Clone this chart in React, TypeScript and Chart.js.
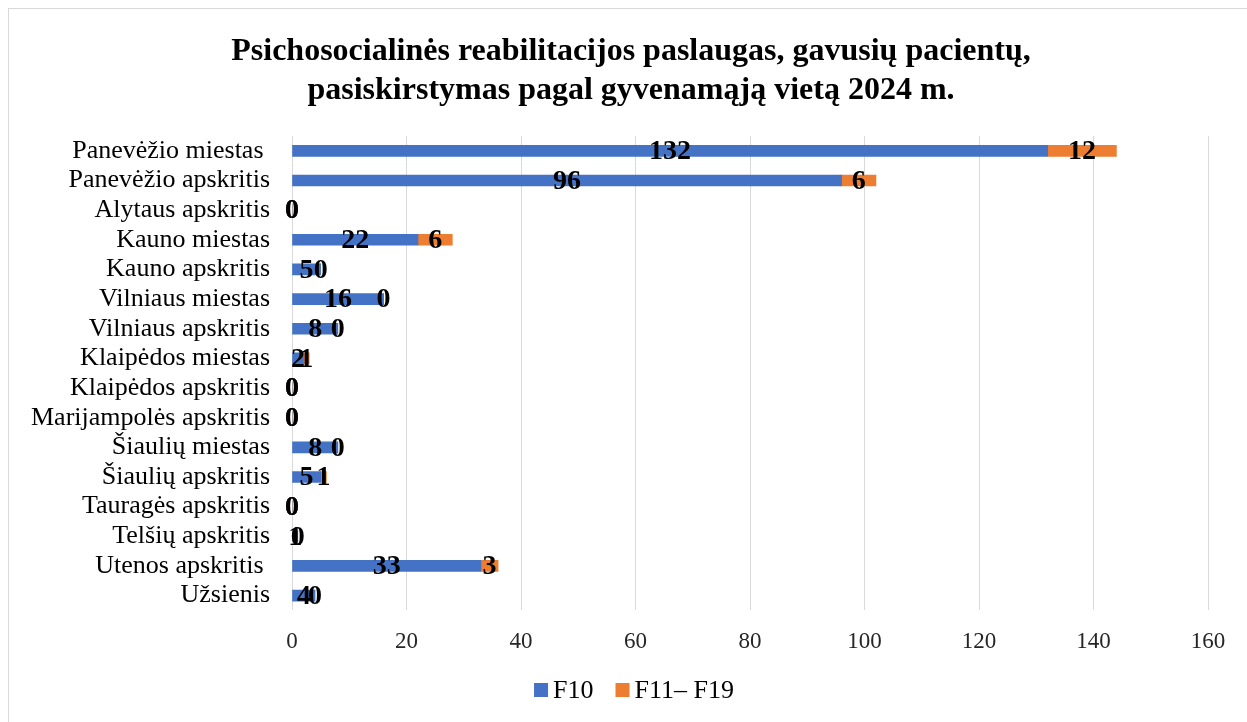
import React, { useEffect, useRef } from "react";
import { Chart, registerables } from "chart.js";

Chart.register(...registerables);

const categories: string[] = [
  "Panevėžio miestas ",
  "Panevėžio apskritis",
  "Alytaus apskritis",
  "Kauno miestas",
  "Kauno apskritis",
  "Vilniaus miestas",
  "Vilniaus apskritis",
  "Klaipėdos miestas",
  "Klaipėdos apskritis",
  "Marijampolės apskritis",
  "Šiaulių miestas",
  "Šiaulių apskritis",
  "Tauragės apskritis",
  "Telšių apskritis",
  "Utenos apskritis ",
  "Užsienis",
];

const f10Values: number[] = [132, 96, 0, 22, 5, 16, 8, 2, 0, 0, 8, 5, 0, 1, 33, 4];
const f11f19Values: number[] = [12, 6, 0, 6, 0, 0, 0, 1, 0, 0, 0, 1, 0, 0, 3, 0];

const seriesNames: string[] = ["F10", "F11– F19"];
const seriesColors: string[] = ["#4472C4", "#ED7D31"];

const titleLines: string[] = [
  "Psichosocialinės reabilitacijos paslaugas, gavusių pacientų,",
  "pasiskirstymas pagal gyvenamąją vietą 2024 m.",
];

const xMin = 0;
const xMax = 160;
const xStep = 20;

const SERIF = "'Liberation Serif', 'Times New Roman', serif";

const titlePlugin = {
  id: "customTitle",
  afterDraw(chart: any) {
    const ctx = chart.ctx;
    ctx.save();
    ctx.font = `bold 32px ${SERIF}`;
    ctx.fillStyle = "#000";
    ctx.textAlign = "center";
    ctx.textBaseline = "middle";
    const cx = 622;
    titleLines.forEach((line, i) => {
      ctx.fillText(line, cx, 43 + i * 39);
    });
    ctx.restore();
  },
};

const dataLabelPlugin = {
  id: "dataLabels",
  afterDatasetsDraw(chart: any) {
    const ctx = chart.ctx;
    ctx.save();
    ctx.font = `bold 28px ${SERIF}`;
    ctx.fillStyle = "#000";
    ctx.textAlign = "center";
    ctx.textBaseline = "middle";
    chart.data.datasets.forEach((ds: any, i: number) => {
      const meta = chart.getDatasetMeta(i);
      meta.data.forEach((el: any, j: number) => {
        const v = ds.data[j];
        const x = (el.x + el.base) / 2;
        ctx.fillText(String(v), x, el.y + 1);
      });
    });
    ctx.restore();
  },
};

const legendPlugin = {
  id: "customLegend",
  afterDraw(chart: any) {
    const ctx = chart.ctx;
    ctx.save();
    ctx.font = `26px ${SERIF}`;
    ctx.textBaseline = "middle";
    ctx.textAlign = "left";
    const box = 14;
    const gapBoxText = 5;
    const gapItems = 22;
    const items = chart.data.datasets.map((ds: any) => ({
      text: ds.label,
      color: ds.backgroundColor,
      w: ctx.measureText(ds.label).width,
    }));
    let total = 0;
    items.forEach((it: any, i: number) => {
      total += box + gapBoxText + it.w + (i < items.length - 1 ? gapItems : 0);
    });
    let x = chart.width / 2 - total / 2 + 6;
    const yc = 681;
    items.forEach((it: any) => {
      ctx.fillStyle = it.color;
      ctx.fillRect(x, yc - 7, box, box);
      x += box + gapBoxText;
      ctx.fillStyle = "#000";
      ctx.fillText(it.text, x, yc + 1);
      x += it.w + gapItems;
    });
    ctx.restore();
  },
};

export default function App() {
  const canvasRef = useRef<HTMLCanvasElement | null>(null);

  useEffect(() => {
    document.documentElement.style.overflow = "hidden";
    document.body.style.overflow = "hidden";
    const canvas = canvasRef.current;
    if (!canvas) return;
    const chart = new Chart(canvas, {
      type: "bar",
      data: {
        labels: categories,
        datasets: [
          {
            label: seriesNames[0],
            data: f10Values,
            backgroundColor: seriesColors[0],
            barThickness: 11,
          },
          {
            label: seriesNames[1],
            data: f11f19Values,
            backgroundColor: seriesColors[1],
            barThickness: 11,
          },
        ],
      },
      options: {
        indexAxis: "y",
        responsive: false,
        animation: false,
        layout: { padding: { left: 0, right: 39, top: 127, bottom: 49 } },
        plugins: {
          legend: { display: false },
          tooltip: { enabled: false },
          title: { display: false },
        },
        scales: {
          x: {
            stacked: true,
            min: xMin,
            max: xMax,
            ticks: {
              stepSize: xStep,
              color: "#262626",
              font: { family: SERIF, size: 23 },
              padding: 17.5,
            },
            grid: { color: "#d9d9d9", lineWidth: 1, drawTicks: false },
            border: { display: false },
          },
          y: {
            stacked: true,
            ticks: {
              color: "#000",
              font: { family: SERIF, size: 26 },
              padding: 22,
              autoSkip: false,
            },
            grid: { display: false, drawTicks: false },
            border: { display: false },
          },
        },
      },
      plugins: [dataLabelPlugin, legendPlugin, titlePlugin],
    });
    return () => chart.destroy();
  }, []);

  return (
    <div
      style={{
        position: "fixed",
        left: 8,
        top: 8,
        width: 1280,
        height: 760,
        border: "1px solid #d9d9d9",
        background: "#fff",
      }}
    >
      <canvas ref={canvasRef} width={1238} height={713} style={{ display: "block" }} />
    </div>
  );
}
